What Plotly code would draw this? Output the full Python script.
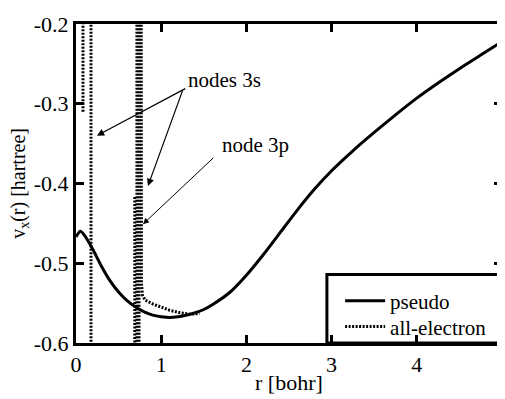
import plotly.graph_objects as go

# pseudo potential
pseudo_r = [0.0, 0.05, 0.1, 0.2, 0.3, 0.4, 0.5, 0.6, 0.7, 0.8, 0.9, 1.0, 1.1, 1.2,
            1.3, 1.4, 1.5, 1.6, 1.8, 2.0, 2.2, 2.4, 2.6, 2.8, 3.0, 3.25, 3.5, 3.75,
            4.0, 4.25, 4.5, 4.75, 5.0]
pseudo_v = [-0.467, -0.460, -0.465, -0.483, -0.504, -0.522, -0.536, -0.547, -0.555,
            -0.561, -0.565, -0.567, -0.568, -0.567, -0.565, -0.562, -0.558, -0.552,
            -0.537, -0.515, -0.489, -0.461, -0.433, -0.407, -0.384, -0.359, -0.336,
            -0.314, -0.293, -0.274, -0.256, -0.239, -0.222]

# all-electron potential (diverges at the orbital nodes; None separates branches)
ae_r = [0.082, 0.082, None,
        0.176, 0.176, None,
        0.690, 0.690, None,
        0.715, 0.715, None,
        0.740, 0.740, None,
        0.765, 0.768, 0.78, 0.81, 0.90, 0.99, 1.10, 1.22, 1.34, 1.45]
ae_v = [-0.310, -0.10, None,
        -0.10, -0.70, None,
        -0.417, -0.70, None,
        -0.10, -0.70, None,
        -0.10, -0.70, None,
        -0.10, -0.525, -0.540, -0.546, -0.551, -0.555, -0.559, -0.562, -0.564, -0.563]

x_ticks = [0, 1, 2, 3, 4, 5]
x_ticktext = ["0", "1", "2", "3", "4", "5"]
y_ticks = [-0.6, -0.5, -0.4, -0.3, -0.2]
y_ticktext = ["-0.6", "-0.5", "-0.4", "-0.3", "-0.2"]

FONT = "Liberation Serif, Times New Roman, Noto Serif, DejaVu Serif, serif"

fig = go.Figure()
fig.add_trace(go.Scatter(x=ae_r, y=ae_v, mode="lines", name="all-electron",
                         line=dict(color="black", width=3, dash="2px,1.5px"),
                         connectgaps=False, legend="legend2"))
fig.add_trace(go.Scatter(x=pseudo_r, y=pseudo_v, mode="lines", name="pseudo",
                         line=dict(color="black", width=3, shape="spline", smoothing=0.6),
                         legend="legend"))

axis_common = dict(showline=True, linecolor="black", linewidth=3, mirror="ticks",
                   ticks="inside", ticklen=8, tickwidth=3, tickcolor="black",
                   showgrid=False, zeroline=False, ticklabeloverflow="allow",
                   tickfont=dict(family=FONT, size=22, color="black"))

fig.update_xaxes(range=[0, 5], tickvals=x_ticks, ticktext=x_ticktext, **axis_common)
fig.update_yaxes(range=[-0.6, -0.2], tickvals=y_ticks, ticktext=y_ticktext, **axis_common)

ann_font = dict(family=FONT, size=21, color="black")
fig.add_annotation(x=1.74, y=-0.270, text="nodes 3s", showarrow=False, font=ann_font)
fig.add_annotation(x=2.11, y=-0.352, text="node 3p", showarrow=False, font=ann_font)
# arrows
fig.add_annotation(x=0.246, y=-0.340, ax=1.30, ay=-0.280, axref="x", ayref="y",
                   xref="x", yref="y", text="", showarrow=True, arrowhead=2,
                   arrowsize=1.2, arrowwidth=1.2, arrowcolor="black")
fig.add_annotation(x=0.845, y=-0.403, ax=1.256, ay=-0.282, axref="x", ayref="y",
                   xref="x", yref="y", text="", showarrow=True, arrowhead=2,
                   arrowsize=1.2, arrowwidth=1.2, arrowcolor="black")
fig.add_annotation(x=0.786, y=-0.451, ax=1.63, ay=-0.366, axref="x", ayref="y",
                   xref="x", yref="y", text="", showarrow=True, arrowhead=2,
                   arrowsize=1.2, arrowwidth=1.0, arrowcolor="black")

# axis titles
fig.add_annotation(xref="paper", yref="paper", x=0.5, y=-0.124, yanchor="middle",
                   text="r [bohr]", showarrow=False,
                   font=dict(family=FONT, size=22, color="black"))
fig.add_annotation(xref="paper", yref="paper", x=-0.133, y=0.5, xanchor="center",
                   yanchor="middle", textangle=-90,
                   text="v<sub>x</sub>(r) [hartree]", showarrow=False,
                   font=dict(family=FONT, size=20, color="black"))

# legend frame
fig.add_shape(type="rect", xref="paper", yref="paper", x0=0.589, x1=1.0, y0=0.0, y1=0.2145,
              line=dict(color="black", width=3), fillcolor="rgba(0,0,0,0)")

legend_common = dict(x=0.62, xanchor="left", yanchor="top",
                     bgcolor="rgba(0,0,0,0)", borderwidth=0,
                     font=dict(family=FONT, size=21, color="black"),
                     itemwidth=40)

fig.update_layout(
    width=505, height=399,
    margin=dict(l=68, r=11, t=4, b=64),
    paper_bgcolor="white", plot_bgcolor="white",
    showlegend=True,
    legend=dict(y=0.196, **legend_common),
    legend2=dict(y=0.115, **legend_common),
)

fig.write_html("out.html")
